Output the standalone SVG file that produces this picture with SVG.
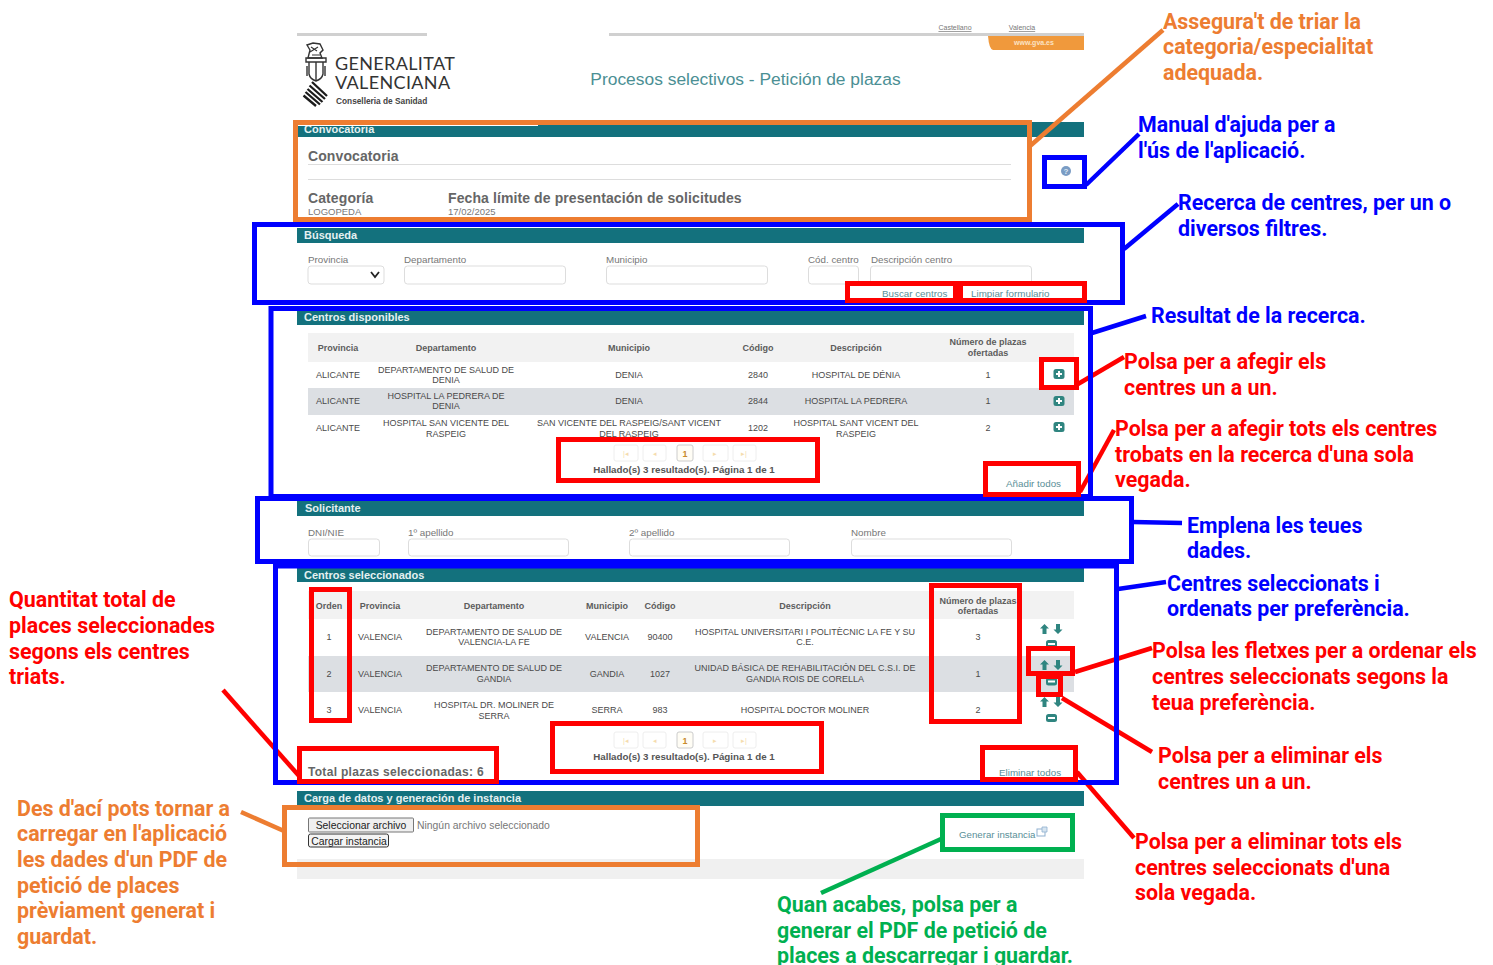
<svg xmlns="http://www.w3.org/2000/svg" width="1493" height="965" viewBox="0 0 1493 965">
<style>
text{font-family:"Liberation Sans",Arial,sans-serif;fill:#444}
.bar{fill:#13717d}
.h{font-size:11px;font-weight:700;fill:#e4f0f1}
.th{font-size:9px;font-weight:700;fill:#5c5c5c;text-anchor:middle}
.td{font-size:9px;fill:#4a4a4a;text-anchor:middle}
.lb{font-size:9.800px;fill:#777}
.big{font-size:14px;font-weight:700;fill:#666;letter-spacing:.1px}
.val{font-size:9.500px;fill:#777}
.in{fill:#fff;stroke:#ddd;stroke-width:1}
.pg{fill:#fff;stroke:#eee;stroke-width:1}
.lk{font-size:9.800px;fill:#5a8f98}
.res{font-size:9.750px;font-weight:700;fill:#555;text-anchor:middle}
.ico{fill:#2f8580}
.icw{fill:#fff}
.b,.r,.o,.g{fill:none;stroke-width:5}
.b{stroke:#0000ff}.r{stroke:#ff0000}.o{stroke:#ed7d31}.g{stroke:#00b050}
.a{font-family:Roboto,"Liberation Sans",sans-serif;font-size:21.400px;font-weight:700}
.ab{fill:#0000ff}.ar{fill:#ff0000}.ao{fill:#ed7d31}.ag{fill:#00b050}
</style>
<defs>
<g id="plus"><rect x="-5.500" y="-5" width="11" height="10" rx="2.500" class="ico"/><rect x="-3" y="-1" width="6" height="2" class="icw"/><rect x="-1" y="-3" width="2" height="6" class="icw"/></g>
<g id="minus"><rect x="-5.500" y="-4" width="11" height="8" rx="2.500" class="ico"/><rect x="-3.500" y="-1" width="7" height="2" class="icw"/></g>
<g id="arrows"><path class="ico" d="M-6.500-5-11-.5H-8.500V5H-4.500V-.5H-2ZM7 5 11.500.5H9V-5H5V.5H2.500Z"/></g>
<g id="pager">
<rect x="-71" y="-8" width="24" height="16" rx="2" class="pg"/><rect x="-42" y="-8" width="23" height="16" rx="2" class="pg"/><rect x="-8" y="-8" width="16" height="16" rx="2" fill="#fffdf5" stroke="#ccc"/><rect x="18" y="-8" width="25" height="16" rx="2" class="pg"/><rect x="48" y="-8" width="23" height="16" rx="2" class="pg"/>
<text x="-59" y="3" font-size="7" text-anchor="middle" style="fill:#f5dcae">|◂</text><text x="-30" y="3" font-size="7" text-anchor="middle" style="fill:#f5dcae">◂</text><text x="0" y="4" font-size="9" font-weight="700" text-anchor="middle" style="fill:#c98a2b">1</text><text x="30" y="3" font-size="7" text-anchor="middle" style="fill:#f5dcae">▸</text><text x="59" y="3" font-size="7" text-anchor="middle" style="fill:#f5dcae">▸|</text>
</g>
</defs>

<g id="page-header">
<rect x="297" y="33" width="130" height="3" fill="#d0d0d0"/>
<rect x="609" y="33" width="475" height="3" fill="#d0d0d0"/>
<path d="M988 36H1084V50H993Q989 49 988 36Z" fill="#f0993c"/>
<text x="1034" y="45" font-size="7" font-weight="700" text-anchor="middle" style="fill:#fbe3c4">www.gva.es</text>
<text x="955" y="30" font-size="7" text-anchor="middle" style="fill:#777;text-decoration:underline">Castellano</text>
<text x="1022" y="30" font-size="7" text-anchor="middle" style="fill:#777;text-decoration:underline">Valencia</text>
<g id="logo">
<path d="M308 58 310 50 307 45 313 43 320 44 323 50 320 53 322 58Z" fill="none" stroke="#333" stroke-width="1.400"/>
<path d="M311 47 317 51M310 52 318 47M312 55H320" fill="none" stroke="#333" stroke-width="1.100"/>
<path d="M306 58H326V62H306ZM309 62H323V74Q322 79 316 81 310 79 309 74Z" fill="none" stroke="#333" stroke-width="1.400"/>
<path d="M316 62V81M307 66V76M325 66V76" fill="none" stroke="#333" stroke-width="1.400"/>
<path d="M312 82 327 96M309.500 85.500 325 99M307.500 89 322.500 102M305.500 92 320 104.500M303.500 95.500 316 106" fill="none" stroke="#1c1c1c" stroke-width="2.300"/>
<text font-size="18" style="font-family:Lato,sans-serif;fill:#333;letter-spacing:.35px"><tspan x="335" y="70">GENERALITAT</tspan><tspan x="335" y="88.500">VALENCIANA</tspan></text>
<text x="336" y="104" font-size="8.300" font-weight="700" style="fill:#444">Conselleria de Sanidad</text>
</g>
<text x="745.500" y="85" font-size="17.400" text-anchor="middle" style="fill:#4b8f94">Procesos selectivos - Petición de plazas</text>
</g>

<g id="convocatoria">
<rect x="297" y="122" width="787" height="15" class="bar"/>
<text x="304" y="133" class="h">Convocatoria</text>
<rect x="298" y="125" width="240" height="1" fill="#fff"/>
<text x="308" y="161" class="big">Convocatoria</text>
<path d="M308 164.500H1011M308 179.500H1011" stroke="#ddd"/>
<text x="308" y="203" class="big">Categoría</text>
<text x="308" y="215" class="val">LOGOPEDA</text>
<text x="448" y="203" class="big">Fecha límite de presentación de solicitudes</text>
<text x="448" y="215" class="val">17/02/2025</text>
<circle cx="1066" cy="171" r="5" fill="#7a9cc4"/>
<text x="1066" y="174" font-size="8" font-weight="700" text-anchor="middle" style="fill:#dfe9f3">?</text>
</g>

<g id="busqueda">
<rect x="297" y="228" width="787" height="15" class="bar"/>
<text x="304" y="239" class="h">Búsqueda</text>
<text x="308" y="263" class="lb">Provincia</text>
<rect x="308" y="266" width="76" height="18" rx="3" class="in"/>
<path d="M371 272 375 277 379 272" fill="none" stroke="#222" stroke-width="1.800"/>
<text x="404" y="263" class="lb">Departamento</text>
<rect x="404.500" y="266" width="161" height="18" rx="3" class="in"/>
<text x="606" y="263" class="lb">Municipio</text>
<rect x="606.500" y="266" width="161" height="18" rx="3" class="in"/>
<text x="808" y="263" class="lb">Cód. centro</text>
<rect x="808.500" y="266" width="50" height="18" rx="3" class="in"/>
<text x="871" y="263" class="lb">Descripción centro</text>
<rect x="870.500" y="266" width="161" height="18" rx="3" class="in"/>
<text x="882" y="297" class="lk">Buscar centros</text>
<text x="971" y="297" class="lk">Limpiar formulario</text>
</g>

<g id="centros-disponibles">
<rect x="297" y="311" width="787" height="14" class="bar"/>
<text x="304" y="321" class="h">Centros disponibles</text>
<rect x="308" y="333" width="766" height="29" fill="#f2f2f2"/>
<rect x="308" y="388" width="766" height="27" fill="#dcdfe3"/>
<text x="338" y="351" class="th">Provincia</text><text x="446" y="351" class="th">Departamento</text><text x="629" y="351" class="th">Municipio</text><text x="758" y="351" class="th">Código</text><text x="856" y="351" class="th">Descripción</text><text x="988" y="345" class="th">Número de plazas</text><text x="988" y="356" class="th">ofertadas</text>
<text x="338" y="378" class="td">ALICANTE</text><text x="446" y="373" class="td">DEPARTAMENTO DE SALUD DE</text><text x="446" y="383" class="td">DENIA</text><text x="629" y="378" class="td">DENIA</text><text x="758" y="378" class="td">2840</text><text x="856" y="378" class="td">HOSPITAL DE DÉNIA</text><text x="988" y="378" class="td">1</text>
<text x="338" y="404" class="td">ALICANTE</text><text x="446" y="399" class="td">HOSPITAL LA PEDRERA DE</text><text x="446" y="409" class="td">DENIA</text><text x="629" y="404" class="td">DENIA</text><text x="758" y="404" class="td">2844</text><text x="856" y="404" class="td">HOSPITAL LA PEDRERA</text><text x="988" y="404" class="td">1</text>
<text x="338" y="431" class="td">ALICANTE</text><text x="446" y="426" class="td">HOSPITAL SAN VICENTE DEL</text><text x="446" y="437" class="td">RASPEIG</text><text x="629" y="426" class="td">SAN VICENTE DEL RASPEIG/SANT VICENT</text><text x="629" y="437" class="td">DEL RASPEIG</text><text x="758" y="431" class="td">1202</text><text x="856" y="426" class="td">HOSPITAL SANT VICENT DEL</text><text x="856" y="437" class="td">RASPEIG</text><text x="988" y="431" class="td">2</text>
<use href="#plus" x="1059" y="374"/><use href="#plus" x="1059" y="401"/><use href="#plus" x="1059" y="427"/>
<use href="#pager" x="685" y="453"/>
<text x="684" y="473" class="res">Hallado(s) 3 resultado(s). Página 1 de 1</text>
<text x="1006" y="487" class="lk">Añadir todos</text>
</g>

<g id="solicitante">
<rect x="297" y="501" width="787" height="15" class="bar"/>
<text x="305" y="512" class="h">Solicitante</text>
<text x="308" y="536" class="lb">DNI/NIE</text><rect x="308.500" y="539" width="71" height="17" rx="3" class="in"/>
<text x="408" y="536" class="lb">1º apellido</text><rect x="408.500" y="539" width="160" height="17" rx="3" class="in"/>
<text x="629" y="536" class="lb">2º apellido</text><rect x="629.500" y="539" width="160" height="17" rx="3" class="in"/>
<text x="851" y="536" class="lb">Nombre</text><rect x="851.500" y="539" width="160" height="17" rx="3" class="in"/>
</g>

<g id="centros-seleccionados">
<rect x="297" y="568" width="787" height="14" class="bar"/>
<text x="304" y="579" class="h">Centros seleccionados</text>
<rect x="308" y="591" width="766" height="28" fill="#f2f2f2"/>
<rect x="308" y="656" width="766" height="36" fill="#dcdfe3"/>
<text x="329" y="609" class="th">Orden</text><text x="380" y="609" class="th">Provincia</text><text x="494" y="609" class="th">Departamento</text><text x="607" y="609" class="th">Municipio</text><text x="660" y="609" class="th">Código</text><text x="805" y="609" class="th">Descripción</text><text x="978" y="604" class="th">Número de plazas</text><text x="978" y="614" class="th">ofertadas</text>
<text x="329" y="640" class="td">1</text><text x="380" y="640" class="td">VALENCIA</text><text x="494" y="635" class="td">DEPARTAMENTO DE SALUD DE</text><text x="494" y="645" class="td">VALENCIA-LA FE</text><text x="607" y="640" class="td">VALENCIA</text><text x="660" y="640" class="td">90400</text><text x="805" y="635" class="td">HOSPITAL UNIVERSITARI I POLITÈCNIC LA FE Y SU</text><text x="805" y="645" class="td">C.E.</text><text x="978" y="640" class="td">3</text>
<text x="329" y="677" class="td">2</text><text x="380" y="677" class="td">VALENCIA</text><text x="494" y="671" class="td">DEPARTAMENTO DE SALUD DE</text><text x="494" y="682" class="td">GANDIA</text><text x="607" y="677" class="td">GANDIA</text><text x="660" y="677" class="td">1027</text><text x="805" y="671" class="td">UNIDAD BÁSICA DE REHABILITACIÓN DEL C.S.I. DE</text><text x="805" y="682" class="td">GANDIA ROIS DE CORELLA</text><text x="978" y="677" class="td">1</text>
<text x="329" y="713" class="td">3</text><text x="380" y="713" class="td">VALENCIA</text><text x="494" y="708" class="td">HOSPITAL DR. MOLINER DE</text><text x="494" y="719" class="td">SERRA</text><text x="607" y="713" class="td">SERRA</text><text x="660" y="713" class="td">983</text><text x="805" y="713" class="td">HOSPITAL DOCTOR MOLINER</text><text x="978" y="713" class="td">2</text>
<use href="#arrows" x="1051" y="629"/><use href="#minus" x="1051.500" y="644"/>
<use href="#arrows" x="1051" y="665"/><use href="#minus" x="1051.500" y="681.500"/>
<use href="#arrows" x="1051" y="702"/><use href="#minus" x="1051.500" y="718"/>
<use href="#pager" x="685" y="740"/>
<text x="684" y="760" class="res">Hallado(s) 3 resultado(s). Página 1 de 1</text>
<text x="308" y="776" font-size="12" font-weight="700" style="fill:#666;letter-spacing:.3px">Total plazas seleccionadas: 6</text>
<text x="999" y="776" class="lk">Eliminar todos</text>
</g>

<g id="carga-datos">
<rect x="297" y="859" width="787" height="20" fill="#f0f0f0"/>
<rect x="297" y="791" width="787" height="15" class="bar"/>
<text x="304" y="802" class="h">Carga de datos y generación de instancia</text>
<rect x="308.500" y="818" width="105" height="14" rx="1" fill="#efefef" stroke="#777"/>
<text x="361" y="829" font-size="10.400" text-anchor="middle" style="fill:#222">Seleccionar archivo</text>
<text x="417" y="829" font-size="10.400" style="fill:#777">Ningún archivo seleccionado</text>
<rect x="308.500" y="834" width="80" height="13" rx="2" fill="#f4f4f4" stroke="#333"/>
<text x="349" y="845" font-size="10.400" text-anchor="middle" style="fill:#222">Cargar instancia</text>
<text x="959" y="838" class="lk" style="font-size:9.700px">Generar instancia</text>
<rect x="1037" y="829" width="8" height="7" fill="none" stroke="#8fb0cf"/><path d="M1042 827h5v5h-5z" fill="#d6e4f0" stroke="#8fb0cf" stroke-width=".8"/>
</g>

<g id="connectors" fill="none" stroke-width="4.500">
<path d="M1030 146 1163 30" stroke="#ed7d31"/>
<path d="M1086 185 1139 134" stroke="#0000ff"/>
<path d="M1124 249 1178 204" stroke="#0000ff"/>
<path d="M1092 333 1146 316" stroke="#0000ff"/>
<path d="M1078 384 1124 357" stroke="#ff0000"/>
<path d="M1080 492 1114 430" stroke="#ff0000"/>
<path d="M1133 522 1182 523" stroke="#0000ff"/>
<path d="M1118 589 1166 582" stroke="#0000ff"/>
<path d="M1075 672 1152 648" stroke="#ff0000"/>
<path d="M1062 698 1152 752" stroke="#ff0000"/>
<path d="M1077 772 1134 838" stroke="#ff0000"/>
<path d="M223 690 300 777" stroke="#ff0000"/>
<path d="M241 812 284 831" stroke="#ed7d31"/>
<path d="M821 893 941 839" stroke="#00b050"/>
</g>

<g id="highlight-boxes">
<rect class="o" x="295.500" y="122.500" width="734" height="97"/>
<rect class="b" x="1044.500" y="157.500" width="40" height="29"/>
<rect class="b" x="254.500" y="224.500" width="868" height="78"/>
<rect class="b" x="271" y="308.500" width="819.500" height="188"/>
<rect class="b" x="257.500" y="498.500" width="874" height="63"/>
<rect class="b" x="275.500" y="566" width="841" height="216.500"/>
<rect class="r" x="847.500" y="283.500" width="108" height="17"/>
<rect class="r" x="960.500" y="283.500" width="124" height="17"/>
<rect class="r" x="1041.500" y="359.500" width="35" height="28"/>
<rect class="r" x="558.500" y="439.500" width="259" height="41"/>
<rect class="r" x="985.500" y="463.500" width="93" height="31"/>
<rect class="r" x="311.500" y="589.500" width="38" height="131"/>
<rect class="r" x="931.500" y="585.500" width="88" height="136"/>
<rect class="r" x="1028.500" y="648.500" width="44" height="25"/>
<rect class="r" x="1038.500" y="676.500" width="22" height="18"/>
<rect class="r" x="299.500" y="748.500" width="197" height="33"/>
<rect class="r" x="552.500" y="723.500" width="269" height="48"/>
<rect class="r" x="982.500" y="747.500" width="93" height="32"/>
<rect class="o" x="284.500" y="807.500" width="413" height="57"/>
<rect class="g" x="942.500" y="815.500" width="130" height="34"/>
</g>

<g id="notes" transform="translate(0 .5)">
<g id="note-assegura"><text class="a ao" x="1163" y="28">Assegura't de triar la</text><text class="a ao" x="1163" y="53">categoria/especialitat</text><text class="a ao" x="1163" y="79">adequada.</text></g>
<g id="note-manual"><text class="a ab" x="1138" y="131">Manual d'ajuda per a</text><text class="a ab" x="1138" y="157">l'ús de l'aplicació.</text></g>
<g id="note-recerca"><text class="a ab" x="1178" y="209">Recerca de centres, per un o</text><text class="a ab" x="1178" y="235">diversos filtres.</text></g>
<g id="note-resultat"><text class="a ab" x="1151" y="322">Resultat de la recerca.</text></g>
<g id="note-afegir"><text class="a ar" x="1124" y="368">Polsa per a afegir els</text><text class="a ar" x="1124" y="394">centres un a un.</text></g>
<g id="note-afegir-tots"><text class="a ar" x="1115" y="435">Polsa per a afegir tots els centres</text><text class="a ar" x="1115" y="461">trobats en la recerca d'una sola</text><text class="a ar" x="1115" y="486">vegada.</text></g>
<g id="note-emplena"><text class="a ab" x="1187" y="532">Emplena les teues</text><text class="a ab" x="1187" y="557">dades.</text></g>
<g id="note-seleccionats"><text class="a ab" x="1167" y="590">Centres seleccionats i</text><text class="a ab" x="1167" y="615">ordenats per preferència.</text></g>
<g id="note-fletxes"><text class="a ar" x="1152" y="657">Polsa les fletxes per a ordenar els</text><text class="a ar" x="1152" y="683">centres seleccionats segons la</text><text class="a ar" x="1152" y="709">teua preferència.</text></g>
<g id="note-eliminar"><text class="a ar" x="1158" y="762">Polsa per a eliminar els</text><text class="a ar" x="1158" y="788">centres un a un.</text></g>
<g id="note-eliminar-tots"><text class="a ar" x="1135" y="848">Polsa per a eliminar tots els</text><text class="a ar" x="1135" y="874">centres seleccionats d'una</text><text class="a ar" x="1135" y="899">sola vegada.</text></g>
<g id="note-quantitat"><text class="a ar" x="9" y="606">Quantitat total de</text><text class="a ar" x="9" y="632">places seleccionades</text><text class="a ar" x="9" y="658">segons els centres</text><text class="a ar" x="9" y="683">triats.</text></g>
<g id="note-tornar"><text class="a ao" x="17" y="815">Des d'ací pots tornar a</text><text class="a ao" x="17" y="840">carregar en l'aplicació</text><text class="a ao" x="17" y="866">les dades d'un PDF de</text><text class="a ao" x="17" y="892">petició de places</text><text class="a ao" x="17" y="917">prèviament generat i</text><text class="a ao" x="17" y="943">guardat.</text></g>
<g id="note-acabes"><text class="a ag" x="777" y="911">Quan acabes, polsa per a</text><text class="a ag" x="777" y="937">generar el PDF de petició de</text><text class="a ag" x="777" y="962">places a descarregar i guardar.</text></g>
</g>
</svg>
